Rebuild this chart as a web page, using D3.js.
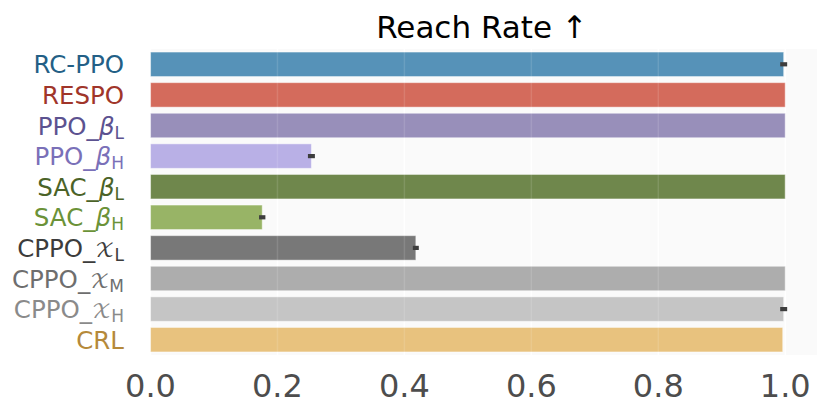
<!DOCTYPE html>
<html>
<head>
<meta charset="utf-8">
<script src="https://cdn.jsdelivr.net/npm/d3@7/dist/d3.min.js"></script>
<style>
  html, body { margin: 0; padding: 0; background: #ffffff; }
  svg { display: block; }
  text { font-family: "DejaVu Sans", sans-serif; }
</style>
</head>
<body>
<svg id="chart" width="831" height="417"></svg>
<script>
// ---- data ----
const methods = ["RC-PPO", "RESPO", "PPO_bL", "PPO_bH", "SAC_bL", "SAC_bH", "CPPO_XL", "CPPO_XM", "CPPO_XH", "CRL"];
// label parts: base text, math symbol (beta / calligraphic X), subscript
const labelBase = ["RC-PPO", "RESPO", "PPO_", "PPO_", "SAC_", "SAC_", "CPPO_", "CPPO_", "CPPO_", "CRL"];
const labelSymbol = ["", "", "β", "β", "β", "β", "𝒳", "𝒳", "𝒳", ""];
const labelSub = ["", "", "L", "H", "L", "H", "L", "M", "H", ""];
const reachRate = [0.9975, 1.0, 1.0, 0.2535, 1.0, 0.176, 0.418, 1.0, 0.9975, 0.996];
const ciLow  = [0.992, 1.0, 1.0, 0.248, 1.0, 0.171, 0.4133, 1.0, 0.992, 0.996];
const ciHigh = [1.003, 1.0, 1.0, 0.259, 1.0, 0.181, 0.4227, 1.0, 1.003, 0.996];
const barColors = ["#5692b8", "#d46b5c", "#988fba", "#b9b0e6", "#6f874c", "#98b466", "#787878", "#adadad", "#c5c5c5", "#e8c27e"];
const labelColors = ["#235f86", "#a0352a", "#5c5290", "#7a70b8", "#4b6328", "#6b9238", "#3c3c3c", "#6e6e6e", "#8a8a8a", "#b5893a"];
const xTicks = [0.0, 0.2, 0.4, 0.6, 0.8, 1.0];
const title = "Reach Rate ↑";

// ---- layout ----
const svg = d3.select("#chart");
const plotL = 150.5, plotR = 817, plotT = 49, plotB = 355;
const x = d3.scaleLinear().domain([0, 1.05]).range([plotL, plotR]);
const y = d3.scaleBand().domain(methods).range([plotT, plotB]).paddingInner(0.2).paddingOuter(0.1);

// axes background
svg.append("rect").attr("x", plotL).attr("y", plotT).attr("width", plotR - plotL).attr("height", plotB - plotT)
  .attr("fill", "#fafafa");

// grid lines (under)
svg.append("g").selectAll("line").data(xTicks).join("line")
  .attr("x1", d => x(d)).attr("x2", d => x(d)).attr("y1", plotT).attr("y2", plotB)
  .attr("stroke", "#ffffff").attr("stroke-width", 1.5);

// bars
svg.append("g").selectAll("rect").data(methods).join("rect")
  .attr("x", x(0))
  .attr("y", d => y(d))
  .attr("width", (d, i) => x(reachRate[i]) - x(0))
  .attr("height", y.bandwidth())
  .attr("fill", (d, i) => barColors[i])
  .attr("stroke", "#ffffff").attr("stroke-opacity", 0.45).attr("stroke-width", 1);

// faint grid over bars
svg.append("g").selectAll("line").data(xTicks).join("line")
  .attr("x1", d => x(d)).attr("x2", d => x(d)).attr("y1", plotT).attr("y2", plotB)
  .attr("stroke", "#ffffff").attr("stroke-opacity", 0.12).attr("stroke-width", 1.5);

// error bars
svg.append("g").selectAll("line").data(methods).join("line")
  .attr("x1", (d, i) => x(ciLow[i]))
  .attr("x2", (d, i) => x(ciHigh[i]))
  .attr("y1", d => y(d) + y.bandwidth() / 2)
  .attr("y2", d => y(d) + y.bandwidth() / 2)
  .attr("stroke", "#3d3d3d").attr("stroke-width", 4.2);

// x tick labels
svg.append("g").selectAll("text").data(xTicks).join("text")
  .attr("x", d => x(d)).attr("y", 397)
  .attr("text-anchor", "middle")
  .attr("font-size", 32).attr("fill", "#4d4d4d")
  .text(d => d3.format(".1f")(d));

// y labels
const lab = svg.append("g").selectAll("text").data(methods).join("text")
  .attr("x", 124)
  .attr("y", d => y(d) + y.bandwidth() / 2 + 9)
  .attr("text-anchor", "end")
  .attr("font-size", 24.5)
  .attr("fill", (d, i) => labelColors[i]);
lab.each(function(d, i) {
  const t = d3.select(this);
  t.append("tspan").text(labelBase[i]);
  if (labelSymbol[i]) {
    const isCal = labelSymbol[i] !== "β";
    t.append("tspan").text(labelSymbol[i])
      .attr("font-style", isCal ? "normal" : "oblique")
      .attr("font-size", isCal ? 20 : 24.5)
      .attr("font-family", isCal ? "'DejaVu Math TeX Gyre', 'DejaVu Serif', serif" : "'DejaVu Sans', sans-serif");
    t.append("tspan").text(labelSub[i]).attr("font-size", 17).attr("dy", 4);
  }
});

// title
svg.append("text").attr("x", 482).attr("y", 38)
  .attr("text-anchor", "middle").attr("font-size", 31).attr("fill", "#000000")
  .text(title);
</script>
</body>
</html>
